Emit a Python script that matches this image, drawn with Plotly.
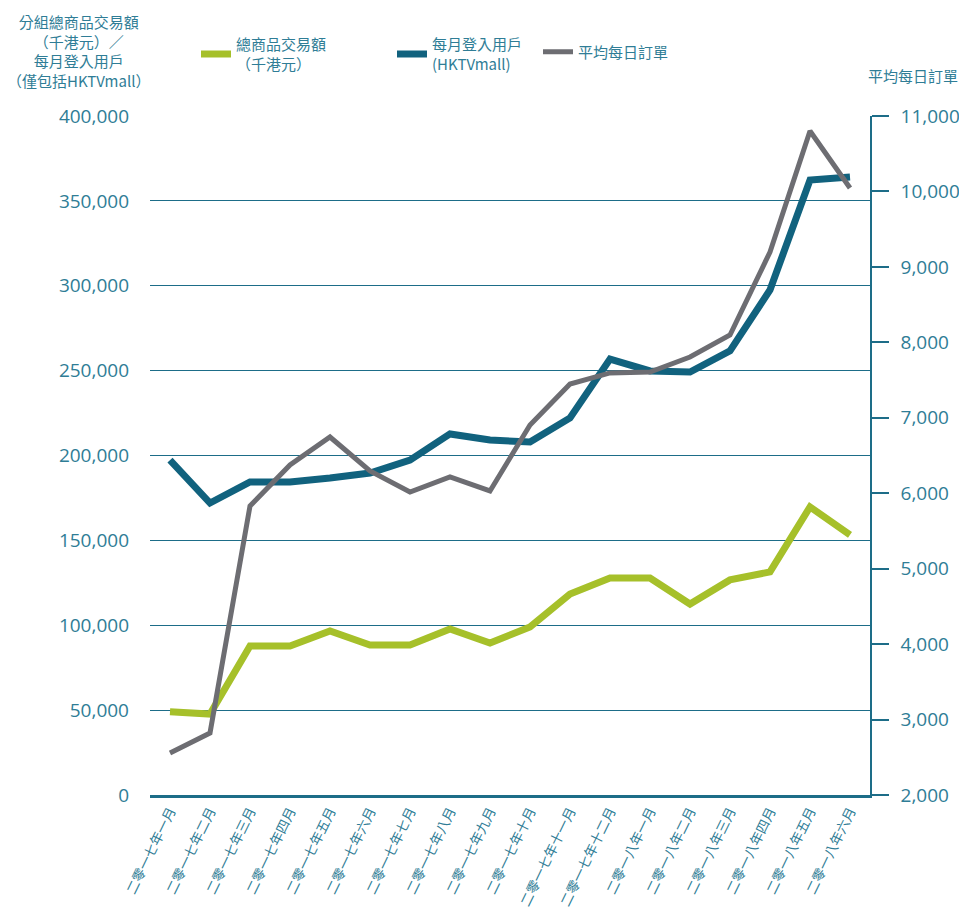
import plotly.graph_objects as go

months = ["二零一七年一月", "二零一七年二月", "二零一七年三月", "二零一七年四月",
          "二零一七年五月", "二零一七年六月", "二零一七年七月", "二零一七年八月",
          "二零一七年九月", "二零一七年十月", "二零一七年十一月", "二零一七年十二月",
          "二零一八年一月", "二零一八年二月", "二零一八年三月", "二零一八年四月",
          "二零一八年五月", "二零一八年六月"]

gmv = [49000, 47700, 87800, 87800, 96600, 88400, 88400, 97800, 89500, 99000,
       118400, 127800, 127800, 112500, 126700, 131400, 169700, 153200]

monthly_users = [197300, 172000, 184400, 184400, 186700, 189700, 197300, 212700,
                 209100, 208000, 222100, 256800, 249800, 249200, 261600, 297500,
                 362300, 364100]

avg_daily_orders = [2557, 2822, 5831, 6374, 6745, 6295, 6016, 6215, 6030, 6904,
                    7448, 7594, 7607, 7806, 8097, 9197, 10801, 10046]

TEAL = "#2f7d96"
GRID = "#1d6d88"
GREEN = "#a6c02a"
BLUE = "#11627e"
GRAY = "#6d6d72"
CJK = "Noto Sans CJK TC"
NUM = "Open Sans"

# page has an 8px body margin; plot area on page: x 150..870, y 116..795
PW, PH = 720.0, 679.0
def px_x(p):
    return (p - 150) / PW
def px_y(p):
    return (795 - p) / PH

legend_font = dict(family=CJK, size=15, color=TEAL)

fig = go.Figure()
fig.add_trace(go.Scatter(x=months, y=gmv, mode="lines", name="總商品交易額<br>（千港元）",
                         line=dict(color=GREEN, width=7), yaxis="y", legend="legend"))
fig.add_trace(go.Scatter(x=months, y=avg_daily_orders, mode="lines", name="平均每日訂單",
                         line=dict(color=GRAY, width=5), yaxis="y2", legend="legend3"))
fig.add_trace(go.Scatter(x=months, y=monthly_users, mode="lines", name="每月登入用戶<br>(HKTVmall)",
                         line=dict(color=BLUE, width=7), yaxis="y", legend="legend2"))

def leg(xp, yp):
    return dict(x=px_x(xp), xanchor="left", y=px_y(yp), yanchor="middle",
                font=legend_font, bgcolor="rgba(0,0,0,0)", borderwidth=0)

fig.update_layout(
    width=951, height=905,
    margin=dict(l=142, r=89, t=108, b=118, autoexpand=False),
    paper_bgcolor="white", plot_bgcolor="white",
    showlegend=True,
    legend=leg(196, 54),
    legend2=leg(392, 54),
    legend3=leg(538, 52),
    xaxis=dict(type="category", range=[-0.5, 17.5], showgrid=False, automargin=False,
               showline=True, linecolor=GRID, linewidth=3, ticks="",
               tickangle=-64, tickfont=dict(family=CJK, size=13.5, color=TEAL)),
    yaxis=dict(range=[0, 400000], tick0=0, dtick=50000, tickformat=",d", automargin=False,
               showgrid=True, gridcolor=GRID, gridwidth=1.3, zeroline=False,
               showline=False, ticks="", ticklabelstandoff=20,
               tickfont=dict(family=NUM, size=19, color=TEAL)),
    yaxis2=dict(range=[2000, 11000], tick0=2000, dtick=1000, tickformat=",d", automargin=False,
                overlaying="y", side="right", showgrid=False, zeroline=False,
                showline=True, linecolor=GRID, linewidth=1.5,
                ticks="outside", ticklen=17, tickcolor=GRID, tickwidth=1.5,
                ticklabelstandoff=8,
                tickfont=dict(family=NUM, size=19, color=TEAL)),
    annotations=[
        dict(text="分組總商品交易額<br>（千港元）／<br>每月登入用戶<br>（僅包括HKTVmall）",
             xref="paper", yref="paper", x=px_x(78), y=px_y(9), xanchor="center", yanchor="top",
             showarrow=False, align="center",
             font=dict(family=CJK, size=15, color=TEAL)),
        dict(text="平均每日訂單", xref="paper", yref="paper", x=px_x(913), y=px_y(75),
             xanchor="center", yanchor="middle", showarrow=False,
             font=dict(family=CJK, size=15, color=TEAL)),
    ],
)

fig.write_html("out.html")
